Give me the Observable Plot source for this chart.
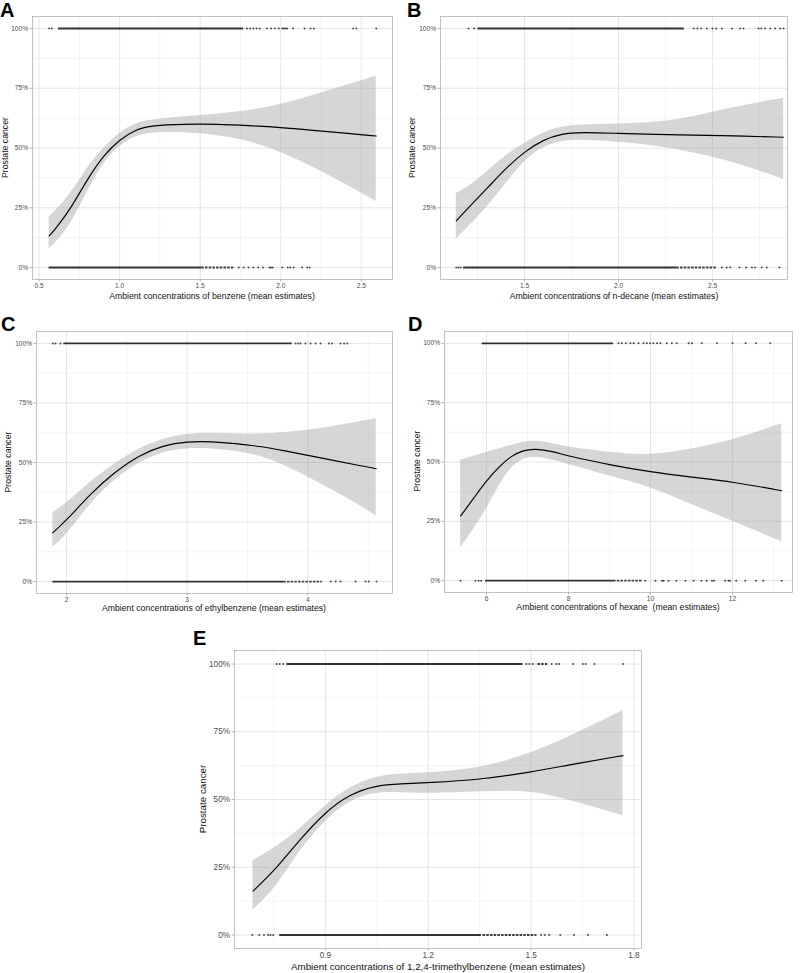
<!DOCTYPE html>
<html>
<head>
<meta charset="utf-8">
<script src="https://cdn.jsdelivr.net/npm/d3@7"></script>
<script src="https://cdn.jsdelivr.net/npm/@observablehq/plot@0.6"></script>
<style>
  html, body { margin: 0; padding: 0; background: #fff; }
  #root { position: relative; width: 800px; height: 973px; overflow: hidden; background: #fff; }
  #root svg { position: absolute; }
</style>
</head>
<body>
<div id="root"></div>
<script>
// ---------- shared tick labels ----------
const Y_TICKS = [0, 0.25, 0.5, 0.75, 1];
const Y_MINOR = [0.125, 0.375, 0.625, 0.875];
const Y_TITLE = "Prostate cancer";

// ---------- A: benzene ----------
const benzeneTicks = [0.5, 1.0, 1.5, 2.0, 2.5];
const benzeneMinor = [0.75, 1.25, 1.75, 2.25];
const benzeneCurveX = [0.562, 0.6, 0.7, 0.8, 0.9, 1.0, 1.1, 1.2, 1.4, 1.6, 1.8, 2.0, 2.2, 2.4, 2.593];
const benzeneFit = [0.132, 0.16, 0.25, 0.37, 0.47, 0.535, 0.578, 0.594, 0.600, 0.600, 0.594, 0.586, 0.574, 0.562, 0.550];
const benzeneLo = [0.080, 0.100, 0.180, 0.320, 0.440, 0.510, 0.550, 0.565, 0.565, 0.555, 0.530, 0.485, 0.420, 0.350, 0.276];
const benzeneHi = [0.210, 0.235, 0.310, 0.420, 0.500, 0.565, 0.605, 0.618, 0.632, 0.640, 0.655, 0.680, 0.720, 0.760, 0.800];
const benzeneCases = [0.562, 0.579, 1.79, 1.81, 1.83, 1.85, 1.87, 1.915, 1.94, 1.963, 1.988, 2.01, 2.02, 2.03, 2.04, 2.077, 2.148, 2.185, 2.206, 2.45, 2.47, 2.593];
const benzeneCasesDense = [[0.62, 1.77]];
const benzeneCasesDashed = [];
const benzeneControls = [1.74, 1.77, 1.80, 1.83, 1.86, 1.89, 1.93, 1.94, 1.95, 2.01, 2.044, 2.06, 2.08, 2.133, 2.164, 2.18];
const benzeneControlsDense = [[0.562, 1.51]];
const benzeneControlsDashed = [[1.51, 1.71]];

// ---------- B: n-decane ----------
const decaneTicks = [1.5, 2.0, 2.5];
const decaneMinor = [1.25, 1.75, 2.25, 2.75];
const decaneCurveX = [1.137, 1.2, 1.3, 1.4, 1.5, 1.6, 1.7, 1.8, 2.0, 2.2, 2.4, 2.6, 2.878];
const decaneFit = [0.195, 0.250, 0.330, 0.415, 0.485, 0.535, 0.560, 0.566, 0.561, 0.557, 0.554, 0.551, 0.545];
const decaneLo = [0.118, 0.170, 0.250, 0.350, 0.450, 0.505, 0.530, 0.535, 0.525, 0.510, 0.480, 0.445, 0.369];
const decaneHi = [0.310, 0.335, 0.400, 0.470, 0.520, 0.565, 0.590, 0.597, 0.600, 0.605, 0.630, 0.668, 0.708];
const decaneCases = [1.202, 1.232, 2.40, 2.42, 2.44, 2.47, 2.50, 2.52, 2.55, 2.603, 2.647, 2.665, 2.745, 2.76, 2.78, 2.807, 2.833, 2.86, 2.878];
const decaneCasesDense = [[1.252, 2.35]];
const decaneCasesDashed = [];
const decaneControls = [1.137, 1.149, 1.161, 2.55, 2.576, 2.594, 2.644, 2.679, 2.71, 2.727, 2.762, 2.789, 2.856];
const decaneControlsDense = [[1.176, 2.31]];
const decaneControlsDashed = [[2.31, 2.523]];

// ---------- C: ethylbenzene ----------
const ethylTicks = [2, 3, 4];
const ethylMinor = [2.5, 3.5, 4.5];
const ethylCurveX = [1.887, 2.0, 2.2, 2.4, 2.6, 2.8, 3.0, 3.2, 3.4, 3.6, 3.8, 4.0, 4.2, 4.4, 4.566];
const ethylFit = [0.205, 0.257, 0.370, 0.460, 0.530, 0.572, 0.588, 0.588, 0.580, 0.568, 0.550, 0.530, 0.510, 0.490, 0.474];
const ethylLo = [0.144, 0.194, 0.330, 0.430, 0.500, 0.545, 0.560, 0.558, 0.548, 0.530, 0.490, 0.440, 0.385, 0.330, 0.275];
const ethylHi = [0.289, 0.327, 0.420, 0.495, 0.560, 0.600, 0.620, 0.624, 0.620, 0.618, 0.625, 0.635, 0.650, 0.668, 0.684];
const ethylCases = [1.887, 1.909, 1.95, 3.898, 3.92, 3.939, 3.98, 4.022, 4.064, 4.105, 4.174, 4.2, 4.27, 4.3, 4.326];
const ethylCasesDense = [[1.978, 3.87]];
const ethylCasesDashed = [];
const ethylControls = [4.19, 4.23, 4.27, 4.395, 4.478, 4.505, 4.569];
const ethylControlsDense = [[1.887, 3.80]];
const ethylControlsDashed = [[3.80, 4.12]];

// ---------- D: hexane ----------
const hexaneTicks = [6, 8, 10, 12];
const hexaneMinor = [5, 7, 9, 11, 13];
const hexaneCurveX = [5.37, 5.7, 6.0, 6.3, 6.6, 6.9, 7.2, 7.6, 8.0, 9.0, 10.0, 11.0, 12.0, 13.2];
const hexaneFit = [0.273, 0.350, 0.421, 0.480, 0.525, 0.550, 0.556, 0.545, 0.525, 0.488, 0.458, 0.436, 0.417, 0.379];
const hexaneLo = [0.138, 0.220, 0.300, 0.400, 0.480, 0.515, 0.522, 0.510, 0.490, 0.440, 0.396, 0.320, 0.251, 0.164];
const hexaneHi = [0.508, 0.525, 0.540, 0.555, 0.570, 0.585, 0.590, 0.578, 0.562, 0.540, 0.525, 0.553, 0.590, 0.661];
const hexaneCases = [9.22, 9.3, 9.4, 9.51, 9.59, 9.71, 9.83, 9.91, 9.99, 10.07, 10.16, 10.24, 10.40, 10.52, 10.64, 10.93, 11.01, 11.25, 11.62, 12.0, 12.32, 12.57, 12.92];
const hexaneCasesDense = [[5.894, 9.1]];
const hexaneCasesDashed = [];
const hexaneControls = [5.367, 5.73, 5.81, 5.87, 9.87, 10.12, 10.28, 10.32, 10.44, 10.63, 10.85, 11.05, 11.24, 11.37, 11.5, 11.55, 11.82, 11.9, 11.94, 12.09, 12.31, 12.57, 12.75, 13.2];
const hexaneControlsDense = [[5.976, 9.1]];
const hexaneControlsDashed = [[9.1, 9.8]];

// ---------- E: 1,2,4-trimethylbenzene ----------
const tmbTicks = [0.9, 1.2, 1.5, 1.8];
const tmbMinor = [0.75, 1.05, 1.35, 1.65];
const tmbCurveX = [0.689, 0.757, 0.824, 0.9, 0.97, 1.047, 1.12, 1.2, 1.348, 1.5, 1.62, 1.768];
const tmbFit = [0.162, 0.245, 0.350, 0.454, 0.519, 0.552, 0.558, 0.562, 0.573, 0.601, 0.630, 0.662];
const tmbLo = [0.092, 0.172, 0.313, 0.423, 0.497, 0.528, 0.525, 0.521, 0.529, 0.534, 0.495, 0.440];
const tmbHi = [0.274, 0.325, 0.387, 0.479, 0.546, 0.585, 0.595, 0.598, 0.612, 0.669, 0.735, 0.828];
const tmbCases = [0.758, 0.767, 0.777, 1.486, 1.495, 1.505, 1.56, 1.574, 1.582, 1.623, 1.651, 1.659, 1.685, 1.768];
const tmbCasesDense = [[0.788, 1.476]];
const tmbCasesDashed = [[1.52, 1.548]];
const tmbControls = [0.687, 0.707, 0.721, 0.733, 0.740, 0.748, 1.529, 1.54, 1.553, 1.585, 1.625, 1.666, 1.721];
const tmbControlsDense = [[0.767, 1.355]];
const tmbControlsDashed = [[1.36, 1.517]];

// ---------- layout ----------
const FONT = "'Liberation Sans', Arial, Helvetica, sans-serif";
const panels = [
  {letter: "A", label: "Ambient concentrations of benzene (mean estimates)",
   left: 0, top: 0, width: 400, height: 300, mt: 16, mb: 21, ml: 32, mr: 8,
   xDomain: [0.459, 2.694], ticks: benzeneTicks, minor: benzeneMinor, fmt: ".1f",
   cx: benzeneCurveX, fit: benzeneFit, lo: benzeneLo, hi: benzeneHi,
   cases: benzeneCases, casesDense: benzeneCasesDense, casesDashed: benzeneCasesDashed,
   controls: benzeneControls, controlsDense: benzeneControlsDense, controlsDashed: benzeneControlsDashed,
   tickFont: 6.6, titleFont: 8.7, letterPos: [0, 16.5], xTitlePos: [212, 296], yTitlePos: [5, 147.5]},
  {letter: "B", label: "Ambient concentrations of n-decane (mean estimates)",
   left: 400, top: 0, width: 400, height: 300, mt: 16, mb: 21, ml: 40, mr: 13,
   xDomain: [1.053, 2.899], ticks: decaneTicks, minor: decaneMinor, fmt: ".1f",
   cx: decaneCurveX, fit: decaneFit, lo: decaneLo, hi: decaneHi,
   cases: decaneCases, casesDense: decaneCasesDense, casesDashed: decaneCasesDashed,
   controls: decaneControls, controlsDense: decaneControlsDense, controlsDashed: decaneControlsDashed,
   tickFont: 6.6, titleFont: 8.7, letterPos: [407, 16.5], xTitlePos: [614, 296], yTitlePos: [412, 147.5]},
  {letter: "C", label: "Ambient concentrations of ethylbenzene (mean estimates)",
   left: 0, top: 300, width: 400, height: 320, mt: 31, mb: 27, ml: 36, mr: 8,
   xDomain: [1.7515, 4.701], ticks: ethylTicks, minor: ethylMinor, fmt: "d",
   cx: ethylCurveX, fit: ethylFit, lo: ethylLo, hi: ethylHi,
   cases: ethylCases, casesDense: ethylCasesDense, casesDashed: ethylCasesDashed,
   controls: ethylControls, controlsDense: ethylControlsDense, controlsDashed: ethylControlsDashed,
   tickFont: 6.6, titleFont: 8.7, letterPos: [1, 330.5], xTitlePos: [214, 608], yTitlePos: [8, 462]},
  {letter: "D", label: "Ambient concentrations of hexane  (mean estimates)",
   left: 400, top: 300, width: 400, height: 320, mt: 31, mb: 28, ml: 44, mr: 8,
   xDomain: [4.976, 13.463], ticks: hexaneTicks, minor: hexaneMinor, fmt: "d",
   cx: hexaneCurveX, fit: hexaneFit, lo: hexaneLo, hi: hexaneHi,
   cases: hexaneCases, casesDense: hexaneCasesDense, casesDashed: hexaneCasesDashed,
   controls: hexaneControls, controlsDense: hexaneControlsDense, controlsDashed: hexaneControlsDashed,
   tickFont: 6.6, titleFont: 8.7, letterPos: [408, 330.5], xTitlePos: [618, 607], yTitlePos: [417, 461]},
  {letter: "E", label: "Ambient concentrations of 1,2,4-trimethylbenzene (mean estimates)",
   left: 190, top: 620, width: 460, height: 353, mt: 30, mb: 25, ml: 44, mr: 9,
   xDomain: [0.635, 1.822], ticks: tmbTicks, minor: tmbMinor, fmt: ".1f",
   cx: tmbCurveX, fit: tmbFit, lo: tmbLo, hi: tmbHi,
   cases: tmbCases, casesDense: tmbCasesDense, casesDashed: tmbCasesDashed,
   controls: tmbControls, controlsDense: tmbControlsDense, controlsDashed: tmbControlsDashed,
   tickFont: 8.2, titleFont: 9.8, letterPos: [193, 645], xTitlePos: [438, 966.5], yTitlePos: [202.5, 799]}
];

const root = document.getElementById("root");

function segRows(segs, y) { return segs.map(s => ({x1: s[0], x2: s[1], y})); }
function dotRows(xs, y) { return xs.map(x => ({x, y})); }

for (const p of panels) {
  const curve = p.cx.map((x, i) => ({x, fit: p.fit[i], lo: p.lo[i], hi: p.hi[i]}));
  const dense = [...segRows(p.casesDense, 1), ...segRows(p.controlsDense, 0)];
  const dashed = [...segRows(p.casesDashed, 1), ...segRows(p.controlsDashed, 0)];
  const dots = [...dotRows(p.cases, 1), ...dotRows(p.controls, 0)];
  const svg = Plot.plot({
    width: p.width, height: p.height,
    marginTop: p.mt, marginBottom: p.mb, marginLeft: p.ml, marginRight: p.mr,
    style: {fontFamily: FONT, background: "transparent", overflow: "visible"},
    x: {domain: p.xDomain},
    y: {domain: [-0.05, 1.05]},
    marks: [
      Plot.gridX(p.minor, {stroke: "#e6e6e6", strokeOpacity: 1, strokeWidth: 0.4}),
      Plot.gridY(Y_MINOR, {stroke: "#e6e6e6", strokeOpacity: 1, strokeWidth: 0.4}),
      Plot.gridX(p.ticks, {stroke: "#dddddd", strokeOpacity: 1, strokeWidth: 0.75}),
      Plot.gridY(Y_TICKS, {stroke: "#dddddd", strokeOpacity: 1, strokeWidth: 0.75}),
      Plot.areaY(curve, {x: "x", y1: "lo", y2: "hi", fill: "#999999", fillOpacity: 0.4, curve: "basis"}),
      Plot.ruleY(dense, {y: "y", x1: "x1", x2: "x2", stroke: "#111", strokeOpacity: 0.85, strokeWidth: 1.9}),
      Plot.ruleY(dashed, {y: "y", x1: "x1", x2: "x2", stroke: "#111", strokeOpacity: 0.8, strokeWidth: 1.9, strokeDasharray: "2.5,1.2"}),
      Plot.dot(dots, {x: "x", y: "y", r: 1, fill: "#111", fillOpacity: 0.75, stroke: null}),
      Plot.line(curve, {x: "x", y: "fit", curve: "basis", stroke: "#000", strokeWidth: 1.15}),
      Plot.frame({stroke: "#b3b3b3", strokeWidth: 0.8}),
      Plot.axisX({ticks: p.ticks, tickFormat: d3.format(p.fmt), tickSize: 2.5, tickPadding: 1.5,
                  fontSize: p.tickFont, stroke: "#b3b3b3", fill: "#4d4d4d", label: null}),
      Plot.axisY({ticks: Y_TICKS, tickFormat: d3.format(".0%"), tickSize: 2.5, tickPadding: 2,
                  fontSize: p.tickFont, stroke: "#b3b3b3", fill: "#4d4d4d", label: null})
    ]
  });
  svg.style.left = p.left + "px";
  svg.style.top = p.top + "px";
  root.appendChild(svg);
}

// ---------- text overlay (panel letters + axis titles) ----------
const overlay = d3.create("svg")
  .attr("width", 800).attr("height", 973)
  .style("left", "0px").style("top", "0px")
  .style("pointer-events", "none")
  .attr("font-family", FONT);

for (const p of panels) {
  overlay.append("text")
    .attr("x", p.letterPos[0]).attr("y", p.letterPos[1])
    .attr("font-size", 20).attr("font-weight", "bold").attr("fill", "#000")
    .text(p.letter);
  overlay.append("text")
    .attr("x", p.xTitlePos[0]).attr("y", p.xTitlePos[1])
    .attr("text-anchor", "middle").attr("dominant-baseline", "central")
    .attr("font-size", p.titleFont).attr("fill", "#111")
    .style("white-space", "pre")
    .text(p.label);
  overlay.append("text")
    .attr("transform", `translate(${p.yTitlePos[0]},${p.yTitlePos[1]}) rotate(-90)`)
    .attr("text-anchor", "middle").attr("dominant-baseline", "central")
    .attr("font-size", p.titleFont).attr("fill", "#111")
    .text(Y_TITLE);
}
root.appendChild(overlay.node());
</script>
</body>
</html>
